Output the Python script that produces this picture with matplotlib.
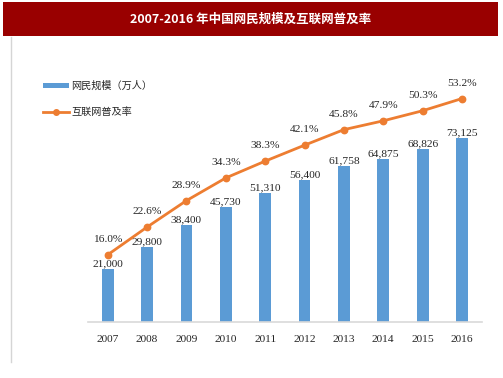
import matplotlib
matplotlib.use("Agg")
import matplotlib.pyplot as plt
from matplotlib.patches import Rectangle
from matplotlib.lines import Line2D

years = ["2007", "2008", "2009", "2010", "2011", "2012", "2013", "2014", "2015", "2016"]
users = [21000, 29800, 38400, 45730, 51310, 56400, 61758, 64875, 68826, 73125]
rate = [16.0, 22.6, 28.9, 34.3, 38.3, 42.1, 45.8, 47.9, 50.3, 53.2]
title = "2007-2016 年中国网民规模及互联网普及率"
legend_bar = "网民规模（万人）"
legend_line = "互联网普及率"

W, H = 503, 378
fig = plt.figure(figsize=(W / 100, H / 100), dpi=100)
fig.patch.set_facecolor("white")

def fx(x):
    return x / W

def fy(y):
    return 1 - y / H

# title banner
fig.patches.append(Rectangle((fx(3), fy(36)), fx(498) - fx(3), fy(2) - fy(36),
                             transform=fig.transFigure, facecolor="#990000",
                             edgecolor="none", zorder=0))
fig.text(fx(251), fy(19), title, color="white", fontsize=9, fontweight="bold",
         ha="center", va="center", family=["Noto Sans CJK SC", "DejaVu Sans"])
# left border line
fig.lines.append(Line2D([fx(11), fx(11)], [fy(37), fy(362)], transform=fig.transFigure,
                        color="#D5D5D5", lw=1.0))

ax = fig.add_axes([fx(88), fy(322), fx(481.7) - fx(88), fy(70) - fy(322)])
x = list(range(len(years)))
bars = ax.bar(x, users, width=0.3, color="#5B9BD5", zorder=2)
ax.set_xlim(-0.5, len(years) - 0.5)
ax.set_ylim(0, 100000)
for s in ["top", "right", "left"]:
    ax.spines[s].set_visible(False)
ax.spines["bottom"].set_color("#D9D9D9")
ax.spines["bottom"].set_linewidth(1.2)
ax.set_yticks([])
ax.set_xticks(x)
ax.set_xticklabels(years, family="Liberation Serif", fontsize=8.2, color="#262626")
ax.tick_params(axis="x", length=0, pad=9)
ax.patch.set_alpha(0)

for xi, v in zip(x, users):
    ax.annotate(f"{v:,}", (xi, v), xytext=(0, 0.5), textcoords="offset points",
                ha="center", va="bottom", fontsize=8.2, family="Liberation Serif",
                color="#262626")

ax2 = ax.twinx()
ax2.set_ylim(0, 60)
ax2.set_yticks([])
for s in ["top", "right", "left", "bottom"]:
    ax2.spines[s].set_visible(False)
ax2.plot(x, rate, color="#ED7D31", lw=2.0, marker="o", markersize=4.6, zorder=3)
for xi, v in zip(x, rate):
    ax2.annotate(f"{v:.1f}%", (xi, v), xytext=(0, 11), textcoords="offset points",
                 ha="center", va="center", fontsize=8.2, family="Liberation Serif",
                 color="#262626")

# legend (manual)
fig.patches.append(Rectangle((fx(43), fy(88)), fx(69) - fx(43), fy(83) - fy(88),
                             transform=fig.transFigure, facecolor="#5B9BD5",
                             edgecolor="none"))
fig.text(fx(71), fy(85.5), legend_bar, fontsize=7.3, ha="left", va="center",
         color="#262626", family=["Noto Sans CJK SC", "DejaVu Sans"])
fig.lines.append(Line2D([fx(43), fx(69)], [fy(111.7), fy(111.7)], transform=fig.transFigure,
                        color="#ED7D31", lw=2.0))
fig.lines.append(Line2D([fx(56)], [fy(111.7)], transform=fig.transFigure,
                        color="#ED7D31", marker="o", markersize=4.0, lw=0))
fig.text(fx(71), fy(111.7), legend_line, fontsize=7.3, ha="left", va="center",
         color="#262626", family=["Noto Sans CJK SC", "DejaVu Sans"])

fig.savefig("out.png", dpi=100)
